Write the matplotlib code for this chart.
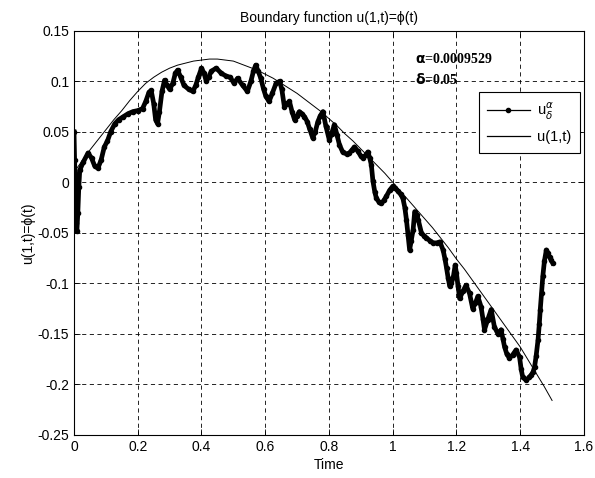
import numpy as np
import matplotlib
matplotlib.use('Agg')
import matplotlib.pyplot as plt
from matplotlib.lines import Line2D

# reconstructed boundary u_delta^alpha
T_REC = [0.000, 0.002, 0.004, 0.006, 0.009, 0.012, 0.015, 0.018, 0.029, 0.044,
         0.055, 0.065, 0.075, 0.085, 0.095, 0.105, 0.115, 0.128, 0.140, 0.155,
         0.170, 0.185, 0.200, 0.215, 0.225, 0.235, 0.242, 0.250, 0.256, 0.262,
         0.268, 0.276, 0.284, 0.292, 0.300, 0.310, 0.318, 0.325, 0.335, 0.345,
         0.360, 0.373, 0.382, 0.390, 0.400, 0.408, 0.415, 0.422, 0.431, 0.446,
         0.462, 0.478, 0.490, 0.502, 0.513, 0.529, 0.544, 0.555, 0.563, 0.570,
         0.578, 0.586, 0.595, 0.602, 0.612, 0.622, 0.634, 0.645, 0.652, 0.660,
         0.668, 0.676, 0.684, 0.692, 0.700, 0.707, 0.715, 0.723, 0.732, 0.739,
         0.749, 0.757, 0.765, 0.773, 0.781, 0.790, 0.801, 0.808, 0.817, 0.825,
         0.833, 0.843, 0.855, 0.864, 0.872, 0.880, 0.890, 0.900, 0.906, 0.915,
         0.922, 0.928, 0.933, 0.938, 0.944, 0.949, 0.958, 0.964, 0.972, 0.980,
         0.990, 1.000, 1.008, 1.017, 1.025, 1.032, 1.038, 1.043, 1.048, 1.053,
         1.058, 1.064, 1.069, 1.075, 1.080, 1.090, 1.098, 1.106, 1.117, 1.127,
         1.138, 1.148, 1.158, 1.164, 1.169, 1.174, 1.179, 1.184, 1.190, 1.196,
         1.200, 1.205, 1.210, 1.220, 1.230, 1.241, 1.251, 1.259, 1.267, 1.277,
         1.283, 1.288, 1.298, 1.309, 1.319, 1.330, 1.340, 1.346, 1.351, 1.358,
         1.366, 1.376, 1.387, 1.398, 1.403, 1.408, 1.419, 1.428, 1.434, 1.440,
         1.445, 1.450, 1.456, 1.460, 1.463, 1.467, 1.471, 1.476, 1.482, 1.487,
         1.492, 1.497, 1.502]
U_REC = [0.050, 0.022, -0.010, -0.040, -0.048, -0.030, -0.005, 0.012, 0.020, 0.029,
         0.024, 0.016, 0.014, 0.022, 0.035, 0.041, 0.050, 0.058, 0.062, 0.065,
         0.068, 0.070, 0.071, 0.073, 0.080, 0.089, 0.091, 0.078, 0.062, 0.058,
         0.070, 0.090, 0.101, 0.096, 0.092, 0.098, 0.108, 0.111, 0.104, 0.096,
         0.092, 0.090, 0.096, 0.104, 0.113, 0.108, 0.100, 0.104, 0.110, 0.113,
         0.108, 0.105, 0.104, 0.098, 0.103, 0.096, 0.090, 0.100, 0.110, 0.116,
         0.110, 0.103, 0.092, 0.085, 0.080, 0.088, 0.098, 0.100, 0.092, 0.075,
         0.078, 0.080, 0.070, 0.062, 0.066, 0.070, 0.068, 0.065, 0.060, 0.053,
         0.044, 0.050, 0.060, 0.066, 0.070, 0.056, 0.042, 0.048, 0.057, 0.047,
         0.037, 0.030, 0.028, 0.029, 0.032, 0.035, 0.031, 0.026, 0.024, 0.027,
         0.030, 0.024, 0.017, 0.001, -0.010, -0.016, -0.020, -0.021, -0.018, -0.014,
         -0.008, -0.004, -0.006, -0.009, -0.012, -0.016, -0.025, -0.037, -0.052, -0.067,
         -0.058, -0.047, -0.029, -0.032, -0.037, -0.050, -0.053, -0.055, -0.058, -0.060,
         -0.060, -0.059, -0.067, -0.076, -0.085, -0.095, -0.103, -0.100, -0.094, -0.082,
         -0.090, -0.103, -0.115, -0.108, -0.102, -0.110, -0.125, -0.120, -0.113, -0.123,
         -0.135, -0.146, -0.136, -0.126, -0.143, -0.150, -0.146, -0.155, -0.163, -0.170,
         -0.174, -0.171, -0.166, -0.173, -0.185, -0.193, -0.196, -0.193, -0.191, -0.188,
         -0.183, -0.172, -0.156, -0.140, -0.126, -0.110, -0.093, -0.078, -0.067, -0.070,
         -0.074, -0.077, -0.080]

# exact boundary u(1,t)
T_EXACT = [0.000, 0.025, 0.050, 0.075, 0.100, 0.125, 0.150, 0.175, 0.200, 0.225,
           0.250, 0.275, 0.300, 0.325, 0.350, 0.375, 0.400, 0.425, 0.450, 0.475,
           0.500, 0.525, 0.550, 0.575, 0.600, 0.625, 0.650, 0.675, 0.700, 0.725,
           0.750, 0.775, 0.800, 0.825, 0.850, 0.875, 0.900, 0.925, 0.950, 0.975,
           1.000, 1.025, 1.050, 1.075, 1.100, 1.125, 1.150, 1.175, 1.200, 1.225,
           1.250, 1.275, 1.300, 1.325, 1.350, 1.375, 1.400, 1.425, 1.450, 1.475,
           1.500]
U_EXACT = [0.010, 0.021, 0.032, 0.042, 0.052, 0.062, 0.071, 0.081, 0.090, 0.098,
           0.104, 0.109, 0.113, 0.116, 0.118, 0.120, 0.121, 0.122, 0.122, 0.121,
           0.120, 0.117, 0.114, 0.111, 0.107, 0.103, 0.098, 0.093, 0.088, 0.082,
           0.076, 0.070, 0.063, 0.056, 0.048, 0.041, 0.033, 0.025, 0.017, 0.009,
           0.000, -0.009, -0.018, -0.027, -0.036, -0.045, -0.055, -0.065, -0.076, -0.086,
           -0.097, -0.108, -0.119, -0.130, -0.141, -0.152, -0.163, -0.176, -0.189, -0.202,
           -0.216]

ALPHA_TEXT = r'$\mathbf{\alpha}$=0.0009529'
DELTA_TEXT = r'$\mathbf{\delta}$=0.05'

plt.rcParams['font.family'] = ['Liberation Sans', 'DejaVu Sans']
plt.rcParams['font.size'] = 10
plt.rcParams['lines.scale_dashes'] = False


def main():
    fig = plt.figure(figsize=(5.95, 4.78), dpi=100)
    ax = fig.add_axes([0.1244, 0.0904, 0.857, 0.8452])

    ax.plot(T_REC, U_REC, color='k', lw=3.4, marker='.', ms=6)
    ax.plot(T_EXACT, U_EXACT, color='k', lw=0.7)

    ax.set_xlim(0, 1.6)
    ax.set_ylim(-0.25, 0.15)
    ax.set_xticks(np.arange(0, 1.61, 0.2))
    ax.set_yticks(np.arange(-0.25, 0.151, 0.05))
    ax.set_xticklabels(['0', '0.2', '0.4', '0.6', '0.8', '1', '1.2', '1.4', '1.6'])
    ax.set_yticklabels(['-0.25', '-0.2', '-0.15', '-0.1', '-0.05', '0',
                        '0.05', '0.1', '0.15'])
    ax.tick_params(direction='in', top=True, right=True, length=4, width=0.6)
    ax.grid(True, color='k', lw=0.6, dashes=(3, 2.5))
    for sp in ax.spines.values():
        sp.set_linewidth(0.8)

    ax.set_title('Boundary function u(1,t)=ϕ(t)', fontsize=10, pad=6)
    ax.set_xlabel('Time', labelpad=3)
    ax.set_ylabel('u(1,t)=ϕ(t)', labelpad=2)

    ax.text(1.069, 0.122, ALPHA_TEXT, family='Liberation Serif', weight='bold',
            va='center', fontsize=10)
    ax.text(1.069, 0.102, DELTA_TEXT, family='Liberation Serif', weight='bold',
            va='center', fontsize=10)

    handles = [Line2D([], [], color='k', lw=0.9, marker='.', ms=6),
               Line2D([], [], color='k', lw=0.9)]
    leg = ax.legend(handles, [r'u$_\delta^\alpha$', 'u(1,t)'],
                    loc='upper right', bbox_to_anchor=(0.992, 0.849),
                    borderaxespad=0, numpoints=1, fancybox=False,
                    edgecolor='k', framealpha=1, handlelength=2.9,
                    handletextpad=0.5, borderpad=0.6, labelspacing=0.6,
                    fontsize=10.5)
    leg.get_frame().set_linewidth(0.8)

    fig.savefig('out.png', dpi=100)
    plt.close(fig)


if __name__ == '__main__':
    main()
